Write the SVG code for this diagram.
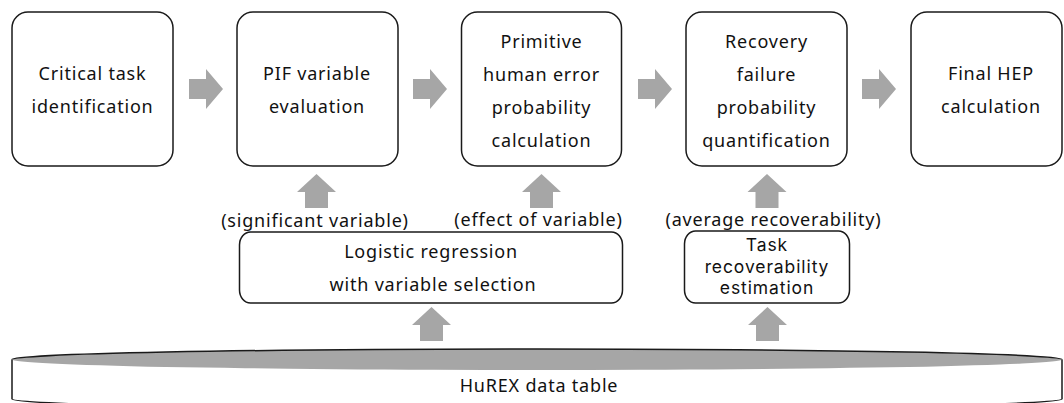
<svg xmlns="http://www.w3.org/2000/svg" width="1064" height="403" viewBox="0 0 1064 403">
<defs>
<style>
.box{fill:#fff;stroke:#1a1a1a;stroke-width:1.5}
.arr{fill:#a6a6a6;stroke:none}
.t{font-family:"Noto Sans","Liberation Sans",sans-serif;font-size:18px;letter-spacing:0.8px;fill:#111;text-anchor:middle}
.ts{font-family:Inter,"Noto Sans",sans-serif;font-size:17.5px;letter-spacing:0.9px;fill:#111;text-anchor:middle}
</style>
<path id="ra" d="M0,-10 L17,-10 L17,-20 L34,0 L17,20 L17,10 L0,10 Z"/>
<path id="ua" d="M-11.5,34 L-11.5,18 L-19.5,18 L0,0 L19.5,18 L11.5,18 L11.5,34 Z"/>
</defs>
<rect width="1064" height="403" fill="#fff"/>

<g id="connectors">
<use href="#ra" class="arr" x="189" y="89"/>
<use href="#ra" class="arr" x="413" y="89"/>
<use href="#ra" class="arr" x="638" y="89"/>
<use href="#ra" class="arr" x="862" y="89"/>
<use href="#ua" class="arr" x="316.5" y="174"/>
<use href="#ua" class="arr" x="541.5" y="174"/>
<use href="#ua" class="arr" x="767" y="174"/>
<use href="#ua" class="arr" x="431.5" y="307"/>
<use href="#ua" class="arr" x="767.5" y="307"/>
<text class="t" x="315" y="227">(significant variable)</text>
<text class="t" x="538.5" y="226">(effect of variable)</text>
<text class="t" x="773.5" y="226">(average recoverability)</text>
</g>

<g id="n1">
<rect class="box" x="12" y="12" width="161" height="154" rx="16"/>
<text class="t" x="92.5" y="80">Critical task</text>
<text class="t" x="92.5" y="113">identification</text>
</g>
<g id="n2">
<rect class="box" x="237" y="12" width="161" height="154" rx="16"/>
<text class="t" x="317" y="80">PIF variable</text>
<text class="t" x="317" y="113">evaluation</text>
</g>
<g id="n3">
<rect class="box" x="461.5" y="12" width="160" height="154" rx="16"/>
<text class="t" x="541.5" y="47.5">Primitive</text>
<text class="t" x="541.5" y="80.5">human error</text>
<text class="t" x="541.5" y="113.5">probability</text>
<text class="t" x="541.5" y="146.5">calculation</text>
</g>
<g id="n4">
<rect class="box" x="686" y="12" width="161" height="154" rx="16"/>
<text class="t" x="766.5" y="47.5">Recovery</text>
<text class="t" x="766.5" y="80.5">failure</text>
<text class="t" x="766.5" y="113.5">probability</text>
<text class="t" x="766.5" y="146.5">quantification</text>
</g>
<g id="n5">
<rect class="box" x="911" y="12" width="151" height="154" rx="16"/>
<text class="t" x="991" y="80">Final HEP</text>
<text class="t" x="991" y="113">calculation</text>
</g>
<g id="n6">
<rect class="box" x="239.5" y="232" width="383" height="71" rx="11" ry="13"/>
<text class="t" x="431" y="258">Logistic regression</text>
<text class="t" x="433" y="291">with variable selection</text>
</g>
<g id="n7">
<rect class="box" x="684.5" y="231" width="165" height="72" rx="11" ry="13"/>
<text class="ts" x="767" y="251">Task</text>
<text class="ts" x="767" y="272.5">recoverability</text>
<text class="ts" x="767" y="294">estimation</text>
</g>
<g id="n8">
<path class="box" d="M12,359.5 L12,399 A525,10.5 0 0 0 1062,399 L1062,359.5"/>
<ellipse cx="537" cy="359.5" rx="525" ry="10.5" fill="#a6a6a6"/>
<path d="M12,359.5 A525,10.5 0 0 1 1062,359.5" fill="none" stroke="#1a1a1a" stroke-width="1.5"/>
<text class="t" x="539" y="392">HuREX data table</text>
</g>
</svg>
